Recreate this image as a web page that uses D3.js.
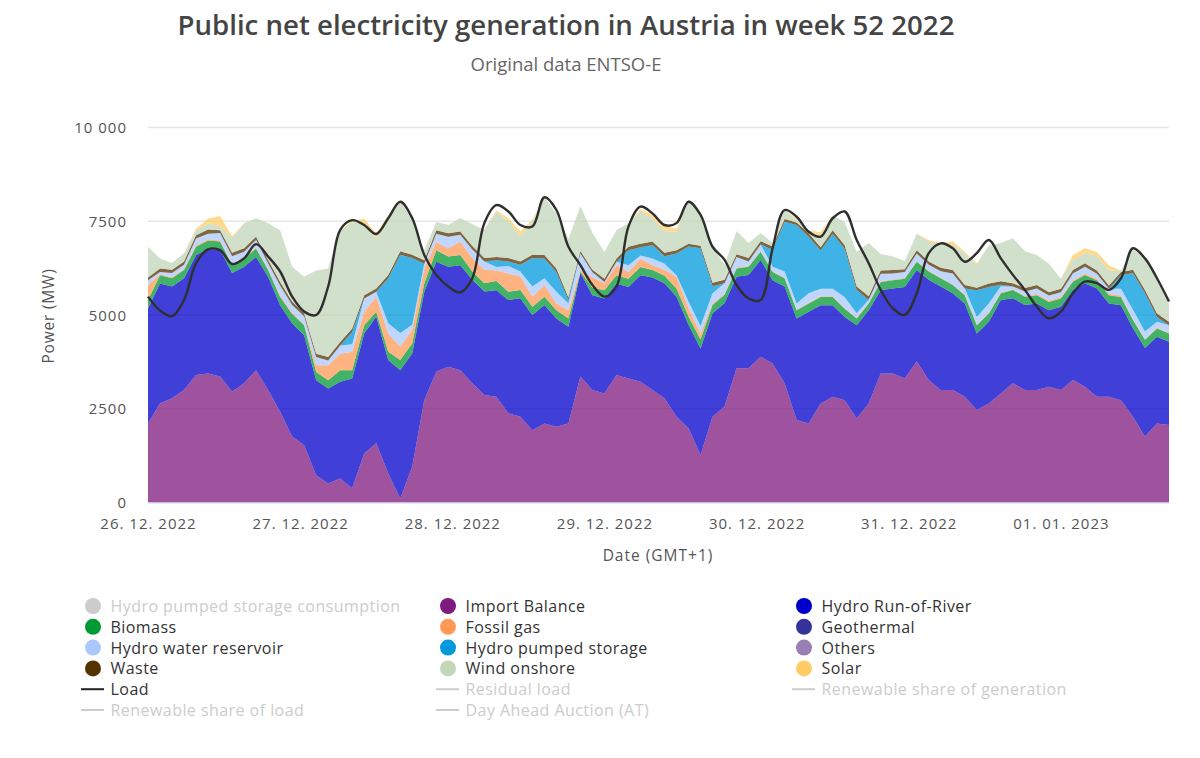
<!DOCTYPE html>
<html><head><meta charset="utf-8">
<script src="https://cdn.jsdelivr.net/npm/d3@7"></script>
<style>html,body{margin:0;padding:0;background:#fff}svg{display:block}text{font-family:"Open Sans","Noto Sans",sans-serif}</style>
</head><body><svg id="c" width="1200" height="758"></svg>
<script>
const tickLabels=["26. 12. 2022","27. 12. 2022","28. 12. 2022","29. 12. 2022","30. 12. 2022","31. 12. 2022","01. 01. 2023"];
const yTicks=[0,2500,5000,7500,10000];
const importBalance=[2110,2640,2780,3000,3400,3440,3360,2960,3180,3530,3000,2420,1760,1530,730,510,640,380,1310,1580,780,110,960,2730,3490,3620,3530,3180,2870,2820,2380,2290,1930,2110,2020,2110,3360,3000,2910,3400,3310,3220,3000,2780,2290,1980,1270,2290,2560,3580,3580,3890,3710,3180,2200,2110,2640,2820,2730,2240,2640,3440,3440,3310,3760,3270,3000,3000,2820,2470,2640,2910,3180,3000,3000,3090,3000,3270,3090,2820,2820,2730,2290,1760,2110,2070];
const hydroRunOfRiver=[3070,3200,2980,2980,3200,3330,3380,3160,3110,3020,3020,2840,3020,2930,2530,2530,2580,2930,3200,3380,3020,3420,3020,2890,2930,2670,2800,2760,2760,2840,3020,3160,3070,3160,2890,2580,2760,2530,2530,2440,2440,2840,3000,3070,3200,2760,2840,2760,2760,2440,2490,2580,2220,2580,2710,2980,2620,2440,2220,2490,2490,2220,2270,2440,2440,2670,2760,2580,2490,2040,2180,2490,2270,2270,2310,2040,2220,2400,2760,2890,2490,2530,2360,2360,2310,2220];
const biomass=[220,220,220,220,220,220,220,220,220,220,180,220,250,270,220,220,310,220,220,130,220,270,270,220,310,270,270,220,220,250,220,220,220,220,220,220,40,200,220,220,220,220,200,200,220,220,240,220,220,220,220,220,220,220,220,220,220,220,220,180,180,220,220,220,220,220,220,220,220,220,220,180,220,220,220,220,220,220,220,220,220,220,220,220,220,220];
const fossilGas=[400,30,30,30,40,30,30,30,30,30,20,40,40,20,180,400,440,490,360,400,490,360,360,400,220,220,360,360,360,280,490,360,270,310,180,220,40,280,180,270,180,220,130,160,310,220,160,40,30,30,20,20,20,20,20,20,20,20,20,20,20,20,20,20,20,20,20,20,20,20,20,20,20,20,40,40,40,40,40,40,40,40,20,20,20,20];
const hydroReservoir=[130,60,110,110,180,150,200,200,150,200,160,270,200,220,220,130,220,200,350,130,270,360,130,130,220,310,180,230,220,90,200,130,270,180,310,180,440,130,40,90,180,90,180,160,40,180,200,270,280,280,120,170,120,160,160,250,200,200,290,120,80,200,160,160,200,160,170,290,160,200,250,170,70,120,140,130,130,180,180,130,130,180,250,200,160,200];
const hydroPumped=[0,0,0,0,0,0,0,0,0,0,0,0,0,0,0,0,0,330,0,0,1200,2090,1780,0,0,0,0,0,0,180,120,180,760,530,530,90,0,0,0,0,400,220,360,200,580,1470,2070,190,0,0,0,0,450,1330,2090,1510,1020,1470,1290,620,0,0,0,0,0,0,0,0,0,710,440,40,0,0,0,0,0,0,0,0,0,360,980,1020,130,0];
const waste=[70,90,90,90,90,110,70,90,90,90,90,90,90,70,90,90,90,90,90,90,90,90,90,90,90,90,90,90,90,90,90,90,90,90,90,70,70,70,90,90,90,90,90,90,90,70,70,90,90,70,90,90,90,70,70,90,90,90,90,90,90,90,90,70,90,90,90,90,90,70,90,90,90,90,90,90,90,90,90,90,90,90,90,90,90,90];
const windOnshore=[820,270,180,220,130,160,110,400,670,490,980,1380,930,980,2220,2360,2980,2840,1910,1330,1560,1330,930,270,220,220,360,580,760,1200,980,670,890,1540,1470,1560,1200,980,710,760,620,870,620,580,490,1180,890,980,400,620,400,220,90,250,70,40,310,400,620,930,1420,440,360,220,440,530,620,670,840,620,1020,1020,1200,980,800,760,270,270,270,400,400,40,530,890,890,490];
const solar=[0,0,0,0,40,130,270,40,0,0,0,0,0,0,0,0,0,40,130,130,40,0,0,0,0,0,0,0,0,40,90,130,40,0,0,0,0,0,0,0,0,60,90,130,90,0,0,0,0,0,0,0,0,0,40,40,90,0,0,0,0,0,0,0,0,40,40,90,40,30,0,0,0,0,0,0,0,130,130,90,130,0,0,0,0,0];
const load=[5490,5120,4970,5400,6380,6750,6730,6360,6510,6890,6560,6160,5490,5090,5000,5760,7270,7530,7400,7160,7580,8020,7580,6600,6070,5760,5600,5980,7450,7930,7760,7400,7360,8140,7800,6820,6330,5800,5490,5760,7360,7890,7710,7400,7450,8020,7670,6820,6470,5800,5440,5400,6780,7800,7620,7220,7090,7580,7760,7000,6380,5670,5180,5000,5580,6650,6910,6780,6420,6650,7000,6510,6070,5670,5220,4910,5090,5580,5890,5850,5670,5980,6780,6510,5980,5360];

const stackSeries=[importBalance,hydroRunOfRiver,biomass,fossilGas,hydroReservoir,hydroPumped,waste,windOnshore,solar];
const stackColors=["#7f1a7f","#0000cc","#009933","#ff9955","#aac8ff","#0099dd","#553300","#c2d6b8","#ffcc66"];
const legendNames=["Hydro pumped storage consumption","Import Balance","Hydro Run-of-River","Biomass","Fossil gas","Geothermal","Hydro water reservoir","Hydro pumped storage","Others","Waste","Wind onshore","Solar","Load","Residual load","Renewable share of generation","Renewable share of load","Day Ahead Auction (AT)"];
const legendColors=["#cccccc","#7f1a7f","#0000cc","#009933","#ff9955","#333399","#aac8ff","#0099dd","#9a7fb5","#553300","#c2d6b8","#ffcc66","#222222","#cccccc","#cccccc","#cccccc","#cccccc"];
const legendHidden=[0,13,14,15,16];
const firstLineIndex=12;

const samplesPerDay=152/12;
const svg=d3.select("#c");
const x=d3.scaleLinear().domain([0,load.length-1]).range([148,1169]);
const y=d3.scaleLinear().domain([0,10000]).range([502.5,127.5]);

svg.append("g").selectAll("line").data(yTicks.filter(d=>d>0)).join("line")
  .attr("x1",148).attr("x2",1169).attr("y1",d=>y(d)).attr("y2",d=>y(d))
  .attr("stroke","#e6e6e6").attr("stroke-width",1.5);

const table=load.map((_,i)=>stackSeries.map(s=>s[i]));
const stack=d3.stack().keys(d3.range(stackSeries.length)).value((row,k)=>row[k]);
const area=d3.area().x((d,i)=>x(i)).y0(d=>y(d[0])).y1(d=>y(d[1]));
svg.append("g").selectAll("path").data(stack(table)).join("path")
  .attr("d",area).attr("fill",(d,i)=>stackColors[i]).attr("fill-opacity",0.75);

svg.append("line").attr("x1",148).attr("x2",1169).attr("y1",y(0)+0.5).attr("y2",y(0)+0.5).attr("stroke","#ccd6eb");

svg.append("path").datum(load)
  .attr("d",d3.line().x((d,i)=>x(i)).y(d=>y(d)).curve(d3.curveCatmullRom.alpha(0.5)))
  .attr("fill","none").attr("stroke","#2f2f2f").attr("stroke-width",2.4);

const fmt=d=>d>=10000?"10 000":String(d);
svg.append("g").selectAll("text").data(yTicks).join("text")
  .attr("x",127).attr("y",d=>y(d)+5.5).attr("text-anchor","end").attr("font-size",15).attr("letter-spacing",1)
  .attr("fill","#555").text(fmt);

const xAxis=d3.axisBottom(x).tickValues(tickLabels.map((_,i)=>i*samplesPerDay)).tickFormat((d,i)=>tickLabels[i]).tickSize(0);
const gx=svg.append("g").attr("transform","translate(0,515)").call(xAxis);
gx.select(".domain").remove();
gx.selectAll("text").attr("font-size",15).attr("letter-spacing",1).attr("fill","#555")
  .attr("font-family",'"Open Sans","Noto Sans",sans-serif').attr("dy","0.75em");

svg.append("text").attr("x",658).attr("y",561).attr("text-anchor","middle").attr("font-size",15.5).attr("letter-spacing",1).attr("fill","#555").text("Date (GMT+1)");
svg.append("text").attr("transform","translate(54,316) rotate(-90)").attr("text-anchor","middle").attr("font-size",15.5).attr("letter-spacing",0.8).attr("fill","#555").text("Power (MW)");
svg.append("text").attr("x",566).attr("y",35).attr("text-anchor","middle").attr("font-size",27.6).attr("font-weight",600).attr("fill","#444").text("Public net electricity generation in Austria in week 52 2022");
svg.append("text").attr("x",566).attr("y",71).attr("text-anchor","middle").attr("font-size",18.5).attr("fill","#666").text("Original data ENTSO-E");

const colX=[93,448,804], rowStart=606, rowStep=20.8;
const lg=svg.append("g").selectAll("g").data(legendNames).join("g")
  .attr("transform",(d,i)=>`translate(${colX[i%3]},${rowStart+rowStep*Math.floor(i/3)})`);
lg.each(function(d,i){
  const g=d3.select(this);
  if(i>=firstLineIndex){g.append("line").attr("x1",-12).attr("x2",11).attr("stroke",legendColors[i]).attr("stroke-width",2);}
  else{g.append("circle").attr("r",8).attr("fill",legendColors[i]);}
  g.append("text").attr("x",17.5).attr("y",6).attr("font-size",16).attr("font-weight",500).attr("letter-spacing",0.45)
   .attr("fill",legendHidden.includes(i)?"#cccccc":"#333333").text(d);
});
</script></body></html>
